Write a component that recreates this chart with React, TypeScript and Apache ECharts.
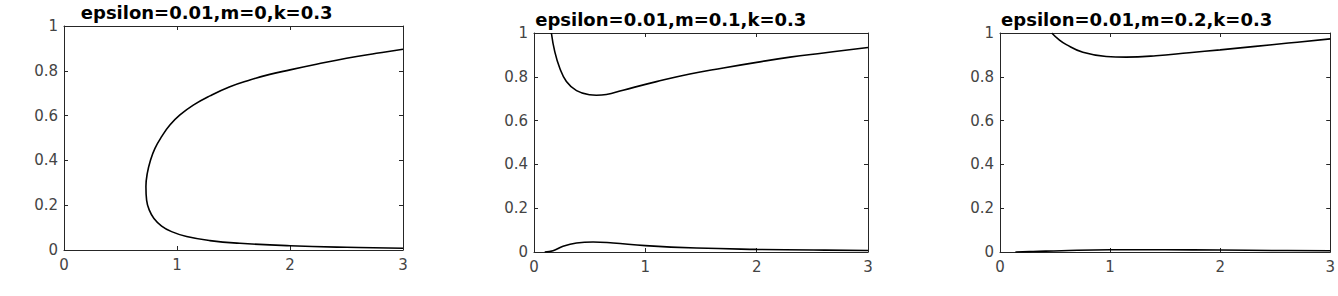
import React, { useEffect, useRef } from "react";
import * as echarts from "echarts";

const titles = [
  "epsilon=0.01,m=0,k=0.3",
  "epsilon=0.01,m=0.1,k=0.3",
  "epsilon=0.01,m=0.2,k=0.3",
];

const xMin = 0;
const xMax = 3;
const xStep = 1;
const yMin = 0;
const yMax = 1;
const yStep = 0.2;

// m = 0 : one folded curve, traced from the upper right, round the fold, to the lower right
const curveM0: [number, number][] = [
  [3.0, 0.896],
  [2.765, 0.878],
  [2.5, 0.856],
  [2.234, 0.829],
  [2.0, 0.804],
  [1.821, 0.784],
  [1.645, 0.759],
  [1.468, 0.729],
  [1.291, 0.688],
  [1.144, 0.647],
  [1.026, 0.603],
  [0.937, 0.558],
  [0.864, 0.506],
  [0.805, 0.454],
  [0.766, 0.402],
  [0.737, 0.342],
  [0.725, 0.283],
  [0.731, 0.223],
  [0.754, 0.179],
  [0.796, 0.141],
  [0.864, 0.107],
  [0.952, 0.082],
  [1.085, 0.06],
  [1.291, 0.042],
  [1.556, 0.03],
  [2.0, 0.019],
  [2.5, 0.012],
  [3.0, 0.008],
];

// m = 0.1
const upperM01: [number, number][] = [
  [0.156, 1.0],
  [0.186, 0.916],
  [0.231, 0.84],
  [0.291, 0.779],
  [0.382, 0.737],
  [0.5, 0.718],
  [0.56, 0.716],
  [0.65, 0.719],
  [0.8, 0.739],
  [1.1, 0.778],
  [1.4, 0.813],
  [1.7, 0.84],
  [2.0, 0.866],
  [2.3, 0.89],
  [2.6, 0.909],
  [3.0, 0.934],
];
const lowerM01: [number, number][] = [
  [0.096, 0.0],
  [0.171, 0.006],
  [0.261, 0.026],
  [0.382, 0.041],
  [0.531, 0.046],
  [0.711, 0.041],
  [1.0, 0.029],
  [1.46, 0.018],
  [2.0, 0.012],
  [2.51, 0.009],
  [3.0, 0.007],
];

// m = 0.2
const upperM02: [number, number][] = [
  [0.47, 1.0],
  [0.53, 0.972],
  [0.603, 0.947],
  [0.753, 0.912],
  [0.965, 0.893],
  [1.146, 0.89],
  [1.417, 0.896],
  [1.718, 0.91],
  [2.0, 0.923],
  [2.32, 0.939],
  [2.62, 0.954],
  [3.0, 0.973],
];
const lowerM02: [number, number][] = [
  [0.14, 0.0],
  [0.3, 0.002],
  [0.56, 0.006],
  [1.0, 0.01],
  [1.5, 0.01],
  [2.0, 0.009],
  [2.5, 0.007],
  [3.0, 0.006],
];

const panelCurves: [number, number][][][] = [
  [curveM0],
  [upperM01, lowerM01],
  [upperM02, lowerM02],
];

const grids = [
  { left: 64, top: 26, width: 339, height: 224 },
  { left: 534, top: 33, width: 334, height: 219 },
  { left: 1000, top: 33, width: 332, height: 219 },
];
const titleCenters = [201.7, 665.8, 1131.7];
const titleTops = [-2, 5, 5];

const axisColor = "#262626";
const labelColor = "#444";
const labelFont = "DejaVu Sans";

export default function App() {
  const ref = useRef<HTMLDivElement>(null);

  useEffect(() => {
    if (!ref.current) return;
    const chart = echarts.init(ref.current, undefined, { renderer: "svg" });

    const xAxes: any[] = [];
    const yAxes: any[] = [];
    const series: any[] = [];

    grids.forEach((_, gi) => {
      const common = {
        type: "value",
        gridIndex: gi,
        axisLine: { show: true, onZero: false, lineStyle: { color: axisColor, width: 1 } },
        axisTick: { show: true, inside: true, length: 4, lineStyle: { color: axisColor, width: 1 } },
        splitLine: { show: false },
      };
      xAxes.push({
        ...common,
        position: "bottom",
        min: xMin,
        max: xMax,
        interval: xStep,
        axisLabel: { show: true, color: labelColor, fontFamily: labelFont, fontSize: 15, margin: 7 },
      });
      xAxes.push({
        ...common,
        position: "top",
        min: xMin,
        max: xMax,
        interval: xStep,
        axisLabel: { show: false },
      });
      yAxes.push({
        ...common,
        position: "left",
        min: yMin,
        max: yMax,
        interval: yStep,
        axisLabel: { show: true, color: labelColor, fontFamily: labelFont, fontSize: 15, margin: 6 },
      });
      yAxes.push({
        ...common,
        position: "right",
        min: yMin,
        max: yMax,
        interval: yStep,
        axisLabel: { show: false },
      });
      panelCurves[gi].forEach((curve) => {
        series.push({
          type: "line",
          xAxisIndex: gi * 2,
          yAxisIndex: gi * 2,
          data: curve,
          showSymbol: false,
          smooth: 0.45,
          silent: true,
          lineStyle: { color: "#000", width: 1.6 },
        });
      });
    });

    chart.setOption({
      animation: false,
      backgroundColor: "#fff",
      title: titles.map((t, i) => ({
        text: t,
        left: titleCenters[i],
        top: titleTops[i],
        textAlign: "center",
        textStyle: { fontFamily: "DejaVu Sans", fontWeight: "bold", fontSize: 18, color: "#000" },
      })),
      grid: grids.map((g) => ({ ...g, containLabel: false })),
      xAxis: xAxes,
      yAxis: yAxes,
      series,
    });

    return () => chart.dispose();
  }, []);

  return (
    <div
      ref={ref}
      style={{ position: "absolute", left: 0, top: 0, width: 1338, height: 296 }}
    />
  );
}
